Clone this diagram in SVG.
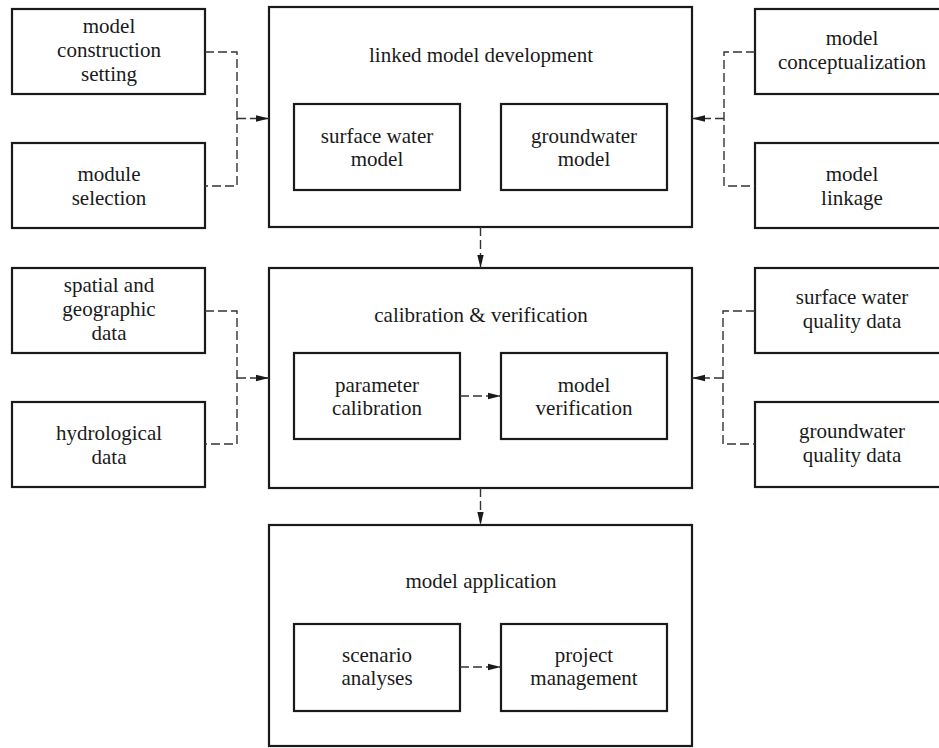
<svg xmlns="http://www.w3.org/2000/svg" width="939" height="748" viewBox="0 0 939 748">
<style>
.box{fill:#fff;stroke:#1a1a1a;stroke-width:2.2}
.t{font-family:"Liberation Serif","Times New Roman",serif;font-size:21px;fill:#1a1a1a;text-anchor:middle}
.c{fill:none;stroke:#333;stroke-width:1.4;stroke-dasharray:9,4}
</style>
<defs>
<marker id="ah" markerUnits="userSpaceOnUse" markerWidth="14" markerHeight="8" refX="13" refY="4" orient="auto">
<path d="M0,0.8 L13,4 L0,7.2 z" fill="#1a1a1a"/>
</marker>
</defs>
<rect width="939" height="748" fill="#fff"/>

<g id="linked-model-development">
<rect class="box" x="269" y="7" width="423" height="220"/>
<text class="t" x="481" y="62">linked model development</text>
</g>
<g id="surface-water-model">
<rect class="box" x="294" y="104" width="166" height="86"/>
<text class="t" x="377" y="143">surface water</text>
<text class="t" x="377" y="166">model</text>
</g>
<g id="groundwater-model">
<rect class="box" x="501" y="104" width="166" height="86"/>
<text class="t" x="584" y="143">groundwater</text>
<text class="t" x="584" y="166">model</text>
</g>

<g id="calibration-verification">
<rect class="box" x="269" y="268" width="423" height="220"/>
<text class="t" x="481" y="322">calibration &amp; verification</text>
</g>
<g id="parameter-calibration">
<rect class="box" x="294" y="353" width="166" height="86"/>
<text class="t" x="377" y="392">parameter</text>
<text class="t" x="377" y="415">calibration</text>
</g>
<g id="model-verification">
<rect class="box" x="501" y="353" width="166" height="86"/>
<text class="t" x="584" y="392">model</text>
<text class="t" x="584" y="415">verification</text>
</g>

<g id="model-application">
<rect class="box" x="269" y="525" width="423" height="221"/>
<text class="t" x="481" y="588">model application</text>
</g>
<g id="scenario-analyses">
<rect class="box" x="294" y="624" width="166" height="87"/>
<text class="t" x="377" y="662">scenario</text>
<text class="t" x="377" y="685">analyses</text>
</g>
<g id="project-management">
<rect class="box" x="501" y="624" width="166" height="87"/>
<text class="t" x="584" y="662">project</text>
<text class="t" x="584" y="685">management</text>
</g>

<g id="model-construction-setting">
<rect class="box" x="12" y="9" width="193" height="85"/>
<text class="t" x="109" y="33">model</text>
<text class="t" x="109" y="57">construction</text>
<text class="t" x="109" y="81">setting</text>
</g>
<g id="module-selection">
<rect class="box" x="12" y="143" width="193" height="85"/>
<text class="t" x="109" y="181">module</text>
<text class="t" x="109" y="205">selection</text>
</g>
<g id="spatial-geographic-data">
<rect class="box" x="12" y="268" width="193" height="85"/>
<text class="t" x="109" y="292">spatial and</text>
<text class="t" x="109" y="316">geographic</text>
<text class="t" x="109" y="340">data</text>
</g>
<g id="hydrological-data">
<rect class="box" x="12" y="402" width="193" height="85"/>
<text class="t" x="109" y="440">hydrological</text>
<text class="t" x="109" y="464">data</text>
</g>

<g id="model-conceptualization">
<rect class="box" x="755" y="9" width="193" height="85"/>
<text class="t" x="852" y="45">model</text>
<text class="t" x="852" y="69">conceptualization</text>
</g>
<g id="model-linkage">
<rect class="box" x="755" y="143" width="193" height="85"/>
<text class="t" x="852" y="181">model</text>
<text class="t" x="852" y="205">linkage</text>
</g>
<g id="surface-water-quality-data">
<rect class="box" x="755" y="268" width="193" height="85"/>
<text class="t" x="852" y="304">surface water</text>
<text class="t" x="852" y="328">quality data</text>
</g>
<g id="groundwater-quality-data">
<rect class="box" x="755" y="402" width="193" height="85"/>
<text class="t" x="852" y="438">groundwater</text>
<text class="t" x="852" y="462">quality data</text>
</g>

<g id="connectors">
<path class="c" d="M205,52 H237 V186 H205"/>
<path class="c" d="M237,118.5 H269" marker-end="url(#ah)"/>
<path class="c" d="M205,311 H237 V444 H205"/>
<path class="c" d="M237,378 H269" marker-end="url(#ah)"/>
<path class="c" d="M755,52 H724 V186 H755"/>
<path class="c" d="M724,118.5 H692" marker-end="url(#ah)"/>
<path class="c" d="M755,311 H723 V444 H755"/>
<path class="c" d="M723,378 H692" marker-end="url(#ah)"/>
<path class="c" d="M480.5,227 V268" marker-end="url(#ah)"/>
<path class="c" d="M480.5,488 V525" marker-end="url(#ah)"/>
<path class="c" d="M460,396 H501" marker-end="url(#ah)"/>
<path class="c" d="M460,667 H501" marker-end="url(#ah)"/>
</g>
</svg>
